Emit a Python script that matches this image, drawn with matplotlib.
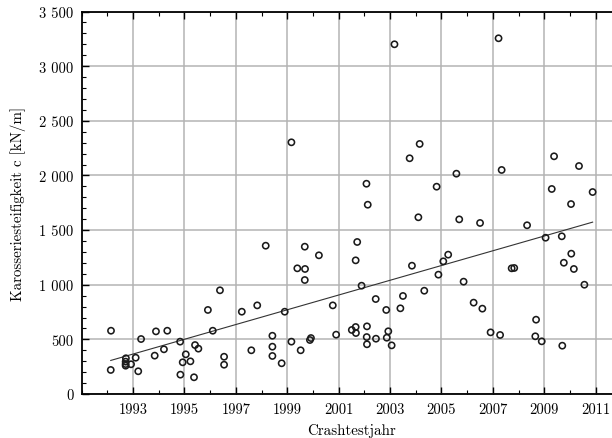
import numpy as np
import matplotlib
matplotlib.use("Agg")
import matplotlib.pyplot as plt
from matplotlib.ticker import MultipleLocator, FuncFormatter

# Crash test year and body stiffness c [kN/m]
years = [1992.14, 1992.13, 1992.72, 1992.71, 1992.71, 1992.71, 1992.92, 1993.1, 1993.2, 1993.31,
         1993.84, 1993.89, 1994.2, 1994.33, 1994.83, 1994.84, 1994.93, 1995.05, 1995.23, 1995.37,
         1995.41, 1995.54, 1995.91, 1996.1, 1996.38, 1996.54, 1996.54, 1997.23, 1997.6, 1997.83,
         1998.16, 1998.42, 1998.42, 1998.42, 1998.78, 1998.9, 1999.16, 1999.16, 1999.39, 1999.52,
         1999.68, 1999.69, 1999.68, 1999.88, 1999.92, 2000.23, 2000.77, 2000.9, 2001.51, 2001.66,
         2001.67, 2001.66, 2001.72, 2001.89, 2002.1, 2002.09, 2002.1, 2002.13, 2002.08, 2002.44,
         2002.45, 2002.85, 2002.87, 2002.93, 2003.06, 2003.17, 2003.4, 2003.5, 2003.76, 2003.85,
         2004.1, 2004.15, 2004.33, 2004.81, 2004.88, 2005.07, 2005.26, 2005.58, 2005.69, 2005.86,
         2006.25, 2006.5, 2006.59, 2006.91, 2007.22, 2007.28, 2007.34, 2007.73, 2007.83, 2008.33,
         2008.68, 2008.65, 2008.9, 2009.05, 2009.29, 2009.38, 2009.68, 2009.7, 2009.76, 2010.04,
         2010.05, 2010.15, 2010.35, 2010.56, 2010.88]
stiffness = [579, 220, 327, 296, 274, 259, 272, 332, 208, 503,
             351, 573, 409, 579, 479, 177, 290, 363, 299, 153,
             448, 415, 769, 579, 949, 341, 268, 753, 400, 811,
             1357, 533, 433, 348, 281, 753, 479, 2303, 1150, 400,
             1348, 1144, 1043, 494, 512, 1269, 811, 543, 586, 613,
             558, 1223, 1391, 991, 619, 521, 455, 1732, 1924, 869,
             506, 769, 515, 574, 445, 3200, 784, 897, 2157, 1174,
             1617, 2288, 945, 1897, 1092, 1214, 1275, 2016, 1598, 1028,
             836, 1565, 781, 564, 3255, 540, 2050, 1150, 1153, 1544,
             680, 528, 482, 1430, 1876, 2175, 1443, 442, 1201, 1738,
             1284, 1144, 2086, 1000, 1848]

x = np.array(years)
y = np.array(stiffness)

fig = plt.figure(figsize=(6.12, 4.39), dpi=100)
ax = fig.add_axes([81.7 / 612, 44 / 439, 539.7 / 612, 382.5 / 439])

FONT = "cmr10"

ax.set_xlim(1991, 2012)
ax.set_ylim(0, 3500)

ax.grid(True, which="major", color="#b4b4b4", linewidth=1.1, zorder=0)
ax.set_axisbelow(True)

ax.scatter(x, y, s=20, facecolors="none", edgecolors="#1a1a1a", linewidths=1.15, zorder=3)

# Linear regression trend
k, d = np.polyfit(x, y, 1)
xt = np.array([x.min(), x.max()])
ax.plot(xt, k * xt + d, color="#333333", linewidth=0.8, zorder=2)

ax.xaxis.set_minor_locator(MultipleLocator(1))
ax.yaxis.set_major_locator(MultipleLocator(500))
ax.yaxis.set_minor_locator(MultipleLocator(100))
ax.set_xticks(np.arange(1993, 2012, 2))
ax.xaxis.set_major_formatter(FuncFormatter(lambda v, p: f"{int(round(v))}"))

def yfmt(v, p):
    v = int(round(v))
    if v >= 1000:
        return f"{v // 1000} {v % 1000:03d}"
    return f"{v}"

ax.yaxis.set_major_formatter(FuncFormatter(yfmt))

ax.tick_params(which="both", direction="in", top=True, right=True, colors="black")
ax.tick_params(which="major", length=5, width=1.0, pad=6)
ax.tick_params(which="minor", length=3, width=0.8)
for lab in ax.get_xticklabels() + ax.get_yticklabels():
    lab.set_fontfamily(FONT)
    lab.set_fontsize(10.5)

for s in ax.spines.values():
    s.set_linewidth(1.3)
    s.set_color("black")

ax.set_xlabel("Crashtestjahr", fontfamily=FONT, fontsize=10.8, labelpad=5)
ax.set_ylabel("Karosseriesteifigkeit c [kN/m]", fontfamily=FONT, fontsize=10.8, labelpad=9)

fig.savefig("out.png", dpi=100)
